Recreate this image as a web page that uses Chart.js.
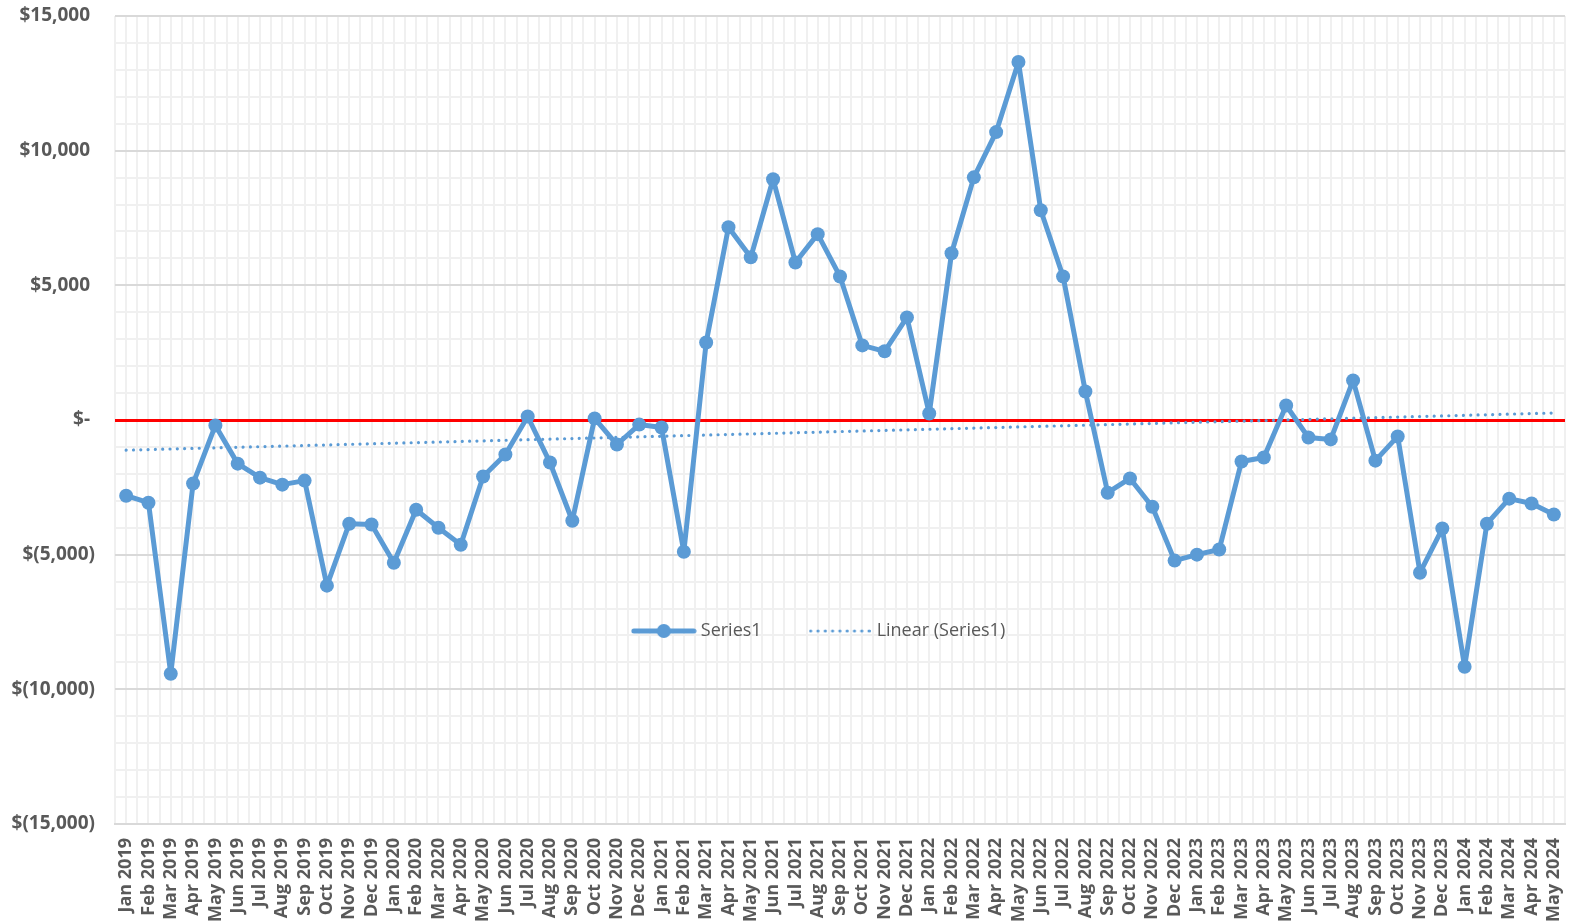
<!DOCTYPE html>
<html>
<head>
<meta charset="utf-8">
<script src="https://cdn.jsdelivr.net/npm/chart.js@4/dist/chart.umd.min.js"></script>
<style>
  body { margin: 0; background: #fff; }
</style>
</head>
<body>
<canvas id="chart" width="1572" height="924"></canvas>
<script>
var months = [
    'Jan 2019', 'Feb 2019', 'Mar 2019', 'Apr 2019', 'May 2019', 'Jun 2019', 'Jul 2019', 'Aug 2019', 'Sep 2019', 'Oct 2019', 'Nov 2019', 'Dec 2019',
    'Jan 2020', 'Feb 2020', 'Mar 2020', 'Apr 2020', 'May 2020', 'Jun 2020', 'Jul 2020', 'Aug 2020', 'Sep 2020', 'Oct 2020', 'Nov 2020', 'Dec 2020',
    'Jan 2021', 'Feb 2021', 'Mar 2021', 'Apr 2021', 'May 2021', 'Jun 2021', 'Jul 2021', 'Aug 2021', 'Sep 2021', 'Oct 2021', 'Nov 2021', 'Dec 2021',
    'Jan 2022', 'Feb 2022', 'Mar 2022', 'Apr 2022', 'May 2022', 'Jun 2022', 'Jul 2022', 'Aug 2022', 'Sep 2022', 'Oct 2022', 'Nov 2022', 'Dec 2022',
    'Jan 2023', 'Feb 2023', 'Mar 2023', 'Apr 2023', 'May 2023', 'Jun 2023', 'Jul 2023', 'Aug 2023', 'Sep 2023', 'Oct 2023', 'Nov 2023', 'Dec 2023',
    'Jan 2024', 'Feb 2024', 'Mar 2024', 'Apr 2024', 'May 2024'
];

var series1 = [
    -2810, -3070, -9420, -2360, -200, -1620, -2140, -2400, -2250, -6150, -3850, -3880,
    -5300, -3330, -4000, -4630, -2100, -1280, 130, -1580, -3740, 60, -910, -170,
    -280, -4890, 2880, 7160, 6040, 8940, 5850, 6900, 5330, 2770, 2550, 3810,
    240, 6190, 9010, 10690, 13290, 7790, 5330, 1060, -2700, -2170, -3220, -5220,
    -5000, -4810, -1540, -1390, 540, -650, -720, 1470, -1510, -610, -5670, -4030,
    -9160, -3850, -2920, -3100, -3510
];

// trendline end values
var trendStart = -1120;
var trendEnd = 260;

var yMin = -15000;
var yMax = 15000;
var yMajorStep = 5000;
var yMinorStep = 1000;

var blue = '#5B9BD5';
var textGrey = '#595959';

var trend = months.map(function (m, i) {
    if (i === 0) return trendStart;
    if (i === months.length - 1) return trendEnd;
    return null;
});

function money(v) {
    if (v === 0) return '$- ';
    var s = Math.abs(v).toLocaleString('en-US');
    return v < 0 ? '$(' + s + ')' : '$' + s + ' ';
}

// legend icons
function seriesIcon() {
    var c = document.createElement('canvas');
    c.width = 66; c.height = 16;
    var x = c.getContext('2d');
    x.strokeStyle = blue; x.lineWidth = 5; x.lineCap = 'round';
    x.beginPath(); x.moveTo(3, 8); x.lineTo(63, 8); x.stroke();
    x.fillStyle = blue;
    x.beginPath(); x.arc(33, 8, 7, 0, Math.PI * 2); x.fill();
    return c;
}

function trendIcon() {
    var c = document.createElement('canvas');
    c.width = 62; c.height = 6;
    var x = c.getContext('2d');
    x.fillStyle = blue;
    for (var px = 2; px < 61; px += 7.3) {
        x.beginPath(); x.arc(px, 3, 1.6, 0, Math.PI * 2); x.fill();
    }
    return c;
}

var legendPadding = 50;
var legendFontSize = 18;

// the legend sits inside the plot, so it takes no room in the layout
var moveLegend = {
    id: 'moveLegend',
    beforeUpdate: function (chart) {
        var lg = chart.legend;
        if (!lg || lg._noRoom) return;
        var fit = lg.fit;
        lg.fit = function () {
            fit.call(this);
            this._realHeight = this.height;
            this.height = 0;
        };
        lg._noRoom = true;
    },
    afterLayout: function (chart) {
        var lg = chart.legend;
        if (!lg) return;
        var dx = 820.5 - (lg.left + lg.right) / 2;
        lg.left += dx; lg.right += dx;
        lg.top = 631 - legendPadding - legendFontSize / 2;
        lg.height = lg._realHeight;
        lg.bottom = lg.top + lg.height;
    }
};

function createLineChart(canvasId) {
    var ctx = document.getElementById(canvasId).getContext('2d');

    var icon1 = seriesIcon();
    var icon2 = trendIcon();

    var lineChart = new Chart(ctx, {
        type: 'line',
        data: {
            labels: months,
            datasets: [{
                label: 'Series1',
                data: series1,
                borderColor: blue,
                backgroundColor: blue,
                borderWidth: 5,
                borderJoinStyle: 'round',
                borderCapStyle: 'round',
                pointRadius: 7,
                pointBorderWidth: 0,
                pointBackgroundColor: blue,
                tension: 0
            }, {
                label: 'Linear (Series1)',
                data: trend,
                spanGaps: true,
                borderColor: blue,
                borderWidth: 3.2,
                borderDash: [0.01, 7.3],
                borderCapStyle: 'round',
                pointRadius: 0,
                fill: false
            }]
        },
        options: {
            responsive: false,
            devicePixelRatio: 1,
            animation: false,
            layout: { padding: { top: 16, right: 5, left: 0, bottom: 0 } },
            plugins: {
                tooltip: { enabled: false },
                legend: {
                    position: 'bottom',
                    labels: {
                        usePointStyle: true,
                        pointStyleWidth: 56,
                        padding: legendPadding,
                        color: textGrey,
                        font: { family: 'Open Sans', size: legendFontSize },
                        generateLabels: function () {
                            return [
                                { text: 'Series1', pointStyle: icon1, fontColor: textGrey, fillStyle: 'transparent', strokeStyle: 'transparent', lineWidth: 0, datasetIndex: 0 },
                                { text: 'Linear (Series1)', pointStyle: icon2, fontColor: textGrey, fillStyle: 'transparent', strokeStyle: 'transparent', lineWidth: 0, datasetIndex: 1 }
                            ];
                        }
                    }
                }
            },
            scales: {
                x: {
                    type: 'category',
                    offset: true,
                    grid: { offset: true, color: '#F0F0F0', lineWidth: 2, drawTicks: false },
                    border: { color: '#D9D9D9', width: 2 },
                    ticks: {
                        autoSkip: false,
                        minRotation: 90,
                        maxRotation: 90,
                        padding: 14,
                        color: textGrey,
                        font: { family: 'Open Sans', size: 18, weight: 'bold' }
                    },
                    afterFit: function (s) { s.height = 100; s.paddingLeft = 0; s.paddingRight = 0; }
                },
                x2: {
                    type: 'category',
                    position: 'bottom',
                    offset: true,
                    grid: { offset: false, color: '#F0F0F0', lineWidth: 2, drawTicks: false },
                    border: { display: false },
                    ticks: { display: false },
                    afterFit: function (s) { s.height = 0; s.paddingLeft = 0; s.paddingRight = 0; }
                },
                y: {
                    min: yMin,
                    max: yMax,
                    grid: {
                        drawTicks: false,
                        color: function (c) {
                            var v = c.tick.value;
                            if (v === 0) return '#FF0000';
                            return v % yMajorStep === 0 ? '#D9D9D9' : '#F0F0F0';
                        },
                        lineWidth: function (c) {
                            return c.tick.value === 0 ? 3 : 2;
                        }
                    },
                    border: { display: false },
                    ticks: {
                        stepSize: yMinorStep,
                        autoSkip: false,
                        padding: 20,
                        color: textGrey,
                        font: { family: 'Open Sans', size: 19, weight: 'bold' },
                        callback: function (v) {
                            return v % yMajorStep === 0 ? money(v) : '';
                        }
                    },
                    afterFit: function (s) { s.width = 115; s.paddingTop = 0; s.paddingBottom = 0; }
                }
            }
        },
        plugins: [moveLegend]
    });
    return lineChart;
}

createLineChart('chart');
</script>
</body>
</html>
